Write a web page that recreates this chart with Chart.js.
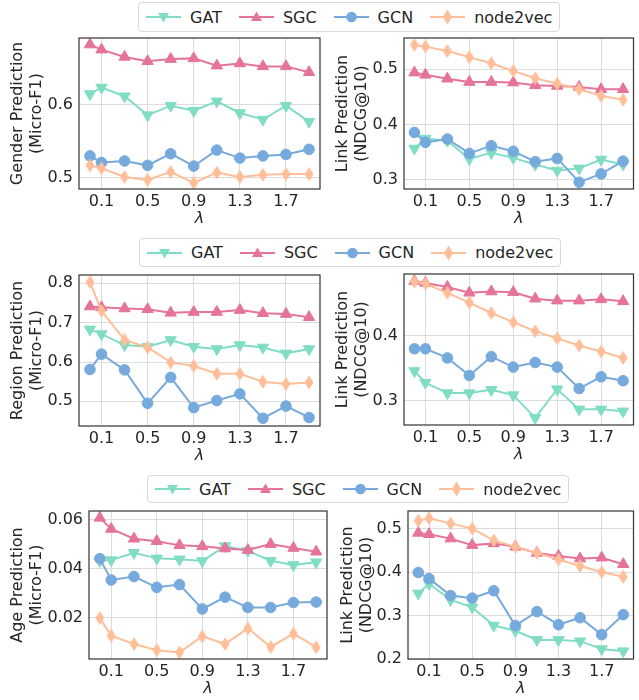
<!DOCTYPE html>
<html>
<head>
<meta charset="utf-8">
<script src="https://cdn.jsdelivr.net/npm/chart.js@4.4.0/dist/chart.umd.min.js"></script>
<style>
  body { margin: 0; width: 639px; height: 700px; overflow: hidden; background: #fff; position: relative; font-family: 'DejaVu Sans', sans-serif; }
  canvas { position: absolute; }
  .legend { position: absolute; display: flex; align-items: center; padding: 0 7px; border: 1px solid #d9d9d9; border-radius: 4px; background: #fff; font-size: 16px; color: #262626; box-sizing: border-box; }
  .item { display: flex; align-items: center; margin-right: 17px; white-space: nowrap; }
  .item:last-child { margin-right: 0; }
  .item svg { margin-right: 9px; }
</style>
</head>
<body>
<canvas id="gender" width="328" height="197" style="left:0;top:30px"></canvas>
<canvas id="linkGender" width="316" height="197" style="left:325px;top:30px"></canvas>
<canvas id="region" width="328" height="197" style="left:0;top:267px"></canvas>
<canvas id="linkRegion" width="316" height="197" style="left:325px;top:266px"></canvas>
<canvas id="age" width="335" height="194" style="left:0;top:503px"></canvas>
<canvas id="linkAge" width="311" height="194" style="left:330px;top:503px"></canvas>
<div class="legend" id="legend1" style="left:138px;top:2px;height:30px"></div>
<div class="legend" id="legend2" style="left:139px;top:238px;height:29px"></div>
<div class="legend" id="legend3" style="left:147px;top:475px;height:28px"></div>
<script>
// x values (lambda) and x tick marks
const lambdas = [0, 0.1, 0.3, 0.5, 0.7, 0.9, 1.1, 1.3, 1.5, 1.7, 1.9];
const xTicks = [0.1, 0.5, 0.9, 1.3, 1.7];
const models = ['GAT', 'SGC', 'GCN', 'node2vec'];

// gender row
const genderGAT = [0.615, 0.624, 0.612, 0.586, 0.599, 0.592, 0.605, 0.589, 0.580, 0.599, 0.577];
const genderSGC = [0.683, 0.676, 0.666, 0.660, 0.663, 0.664, 0.654, 0.657, 0.653, 0.653, 0.645];
const genderGCN = [0.530, 0.521, 0.523, 0.517, 0.533, 0.516, 0.538, 0.527, 0.530, 0.532, 0.539];
const genderN2V = [0.517, 0.513, 0.501, 0.497, 0.508, 0.493, 0.507, 0.501, 0.504, 0.505, 0.505];
const linkGenderGAT = [0.357, 0.375, 0.371, 0.338, 0.349, 0.340, 0.328, 0.317, 0.321, 0.337, 0.328];
const linkGenderSGC = [0.494, 0.490, 0.483, 0.477, 0.477, 0.476, 0.471, 0.470, 0.468, 0.464, 0.464];
const linkGenderGCN = [0.386, 0.368, 0.374, 0.348, 0.362, 0.352, 0.333, 0.339, 0.296, 0.311, 0.334];
const linkGenderN2V = [0.544, 0.541, 0.533, 0.522, 0.511, 0.497, 0.484, 0.474, 0.464, 0.452, 0.445];

// region row
const regionGAT = [0.683, 0.671, 0.643, 0.639, 0.656, 0.639, 0.633, 0.643, 0.637, 0.622, 0.633];
const regionSGC = [0.741, 0.739, 0.736, 0.734, 0.725, 0.727, 0.727, 0.732, 0.724, 0.722, 0.714];
const regionGCN = [0.581, 0.620, 0.580, 0.495, 0.561, 0.484, 0.502, 0.519, 0.457, 0.488, 0.459];
const regionN2V = [0.803, 0.730, 0.656, 0.637, 0.599, 0.590, 0.570, 0.570, 0.550, 0.544, 0.548];
const linkRegionGAT = [0.346, 0.328, 0.312, 0.312, 0.317, 0.309, 0.274, 0.318, 0.287, 0.287, 0.284];
const linkRegionSGC = [0.484, 0.481, 0.475, 0.466, 0.468, 0.467, 0.457, 0.454, 0.454, 0.456, 0.453];
const linkRegionGCN = [0.380, 0.380, 0.366, 0.339, 0.368, 0.352, 0.359, 0.352, 0.319, 0.337, 0.331];
const linkRegionN2V = [0.483, 0.480, 0.466, 0.451, 0.435, 0.421, 0.407, 0.396, 0.385, 0.376, 0.366];

// age row
const ageGAT = [0.0432, 0.0435, 0.0465, 0.0442, 0.0438, 0.0431, 0.0492, 0.0473, 0.0432, 0.0415, 0.0426];
const ageSGC = [0.0607, 0.0562, 0.0522, 0.0512, 0.0495, 0.0491, 0.0482, 0.0476, 0.0500, 0.0484, 0.0469];
const ageGCN = [0.0441, 0.0354, 0.0368, 0.0324, 0.0335, 0.0236, 0.0284, 0.0242, 0.0242, 0.0262, 0.0264];
const ageN2V = [0.0199, 0.0127, 0.0093, 0.0068, 0.0059, 0.0124, 0.0093, 0.0157, 0.0081, 0.0135, 0.0080];
const linkAgeGAT = [0.351, 0.373, 0.336, 0.319, 0.277, 0.265, 0.244, 0.244, 0.241, 0.223, 0.218];
const linkAgeSGC = [0.490, 0.487, 0.477, 0.462, 0.466, 0.458, 0.444, 0.437, 0.431, 0.433, 0.418];
const linkAgeGCN = [0.399, 0.385, 0.346, 0.340, 0.357, 0.277, 0.309, 0.279, 0.295, 0.256, 0.302];
const linkAgeN2V = [0.518, 0.524, 0.512, 0.500, 0.473, 0.458, 0.444, 0.429, 0.414, 0.400, 0.389];

// y tick marks per panel
const genderTicks = [0.5, 0.6];
const linkGenderTicks = [0.3, 0.4, 0.5];
const regionTicks = [0.5, 0.6, 0.7, 0.8];
const linkRegionTicks = [0.3, 0.4];
const ageTicks = [0.02, 0.04, 0.06];
const linkAgeTicks = [0.2, 0.3, 0.4, 0.5];

const getById = label => document.getElementById(label);
const colors = ['#80ddc4', '#e5739a', '#76aadd', '#ffbe98'];
const textColor = '#262626';

// thin diamond marker for node2vec
const thinDiamond = (() => {
  const c = document.createElement('canvas');
  c.width = 10; c.height = 15;
  const g = c.getContext('2d');
  g.fillStyle = colors[3];
  g.beginPath();
  g.moveTo(5, 0.5); g.lineTo(9.5, 7.5); g.lineTo(5, 14.5); g.lineTo(0.5, 7.5);
  g.closePath();
  g.fill();
  return c;
})();
const pointStyles = ['triangle', 'triangle', 'circle', thinDiamond];
const pointRotations = [180, 0, 0, 0];
const pointRadii = [6.5, 6.5, 5.3, 6];

const frame = {
  id: 'frame',
  afterDraw(chart) {
    const {ctx, chartArea: a} = chart;
    ctx.save();
    ctx.strokeStyle = '#333';
    ctx.lineWidth = 1.2;
    ctx.strokeRect(a.left, a.top, a.right - a.left, a.bottom - a.top);
    ctx.restore();
  }
};

const addChart = (id, series, yMin, yMax, yTicks, yTitle, axisWidth, rightPad) => {
  const ctx = getById(id).getContext('2d');
  // eslint-disable-next-line
  const chart = new Chart(ctx, {
    type: 'line',
    data: {
      datasets: series.map((values, i) => ({
        label: models[i],
        data: values.map((v, j) => ({x: lambdas[j], y: v})),
        borderColor: colors[i],
        backgroundColor: colors[i],
        borderWidth: 2,
        pointStyle: pointStyles[i],
        pointRotation: pointRotations[i],
        pointRadius: pointRadii[i],
        pointBorderWidth: 1,
        clip: false,
        order: 3 - i
      }))
    },
    options: {
      responsive: false,
      animation: false,
      events: [],
      layout: {padding: {top: 8, right: rightPad, left: 0, bottom: 0}},
      plugins: {legend: {display: false}, tooltip: {enabled: false}},
      scales: {
        x: {
          type: 'linear',
          min: -0.095,
          max: 1.995,
          afterBuildTicks: s => { s.ticks = xTicks.map(v => ({value: v})); },
          afterFit: s => { s.height = 38; s.paddingLeft = 0; s.paddingRight = 0; },
          ticks: {padding: 3, color: textColor, font: {family: 'DejaVu Sans', size: 16}, callback: v => String(v)},
          grid: {color: '#dcdcdc', lineWidth: 1, drawTicks: false},
          border: {display: false},
          title: {display: true, text: 'λ', color: textColor, font: {family: 'DejaVu Sans', size: 16, style: 'italic', lineHeight: 1}, padding: 0}
        },
        y: {
          min: yMin,
          max: yMax,
          afterBuildTicks: s => { s.ticks = yTicks.map(v => ({value: v})); },
          afterFit: s => { s.width = axisWidth; s.paddingTop = 0; s.paddingBottom = 0; },
          ticks: {padding: 6, color: textColor, font: {family: 'DejaVu Sans', size: 16}, callback: v => String(v)},
          grid: {color: '#dcdcdc', lineWidth: 1, drawTicks: false},
          border: {display: false},
          title: {display: true, text: yTitle, color: textColor, font: {family: 'DejaVu Sans', size: 16, lineHeight: 1.2}, padding: {top: 8.4, bottom: 0}}
        }
      }
    },
    plugins: [frame]
  });
};

const markerSvg = i => {
  const c = colors[i];
  let m;
  if (i === 0) m = `<polygon points="12,4 23,4 17.5,13.5" fill="${c}"/>`;
  else if (i === 1) m = `<polygon points="17.5,2.5 23,12 12,12" fill="${c}"/>`;
  else if (i === 2) m = `<circle cx="17.5" cy="8" r="5.3" fill="${c}"/>`;
  else m = `<polygon points="17.5,0.5 22,8 17.5,15.5 13,8" fill="${c}"/>`;
  return `<svg width="35" height="16"><line x1="0" y1="8" x2="35" y2="8" stroke="${c}" stroke-width="2"/>${m}</svg>`;
};

const addLegend = id => {
  getById(id).innerHTML = models.map((name, i) => `<div class="item">${markerSvg(i)}<span>${name}</span></div>`).join('');
};

document.addEventListener('DOMContentLoaded', () => {
  addChart('gender', [genderGAT, genderSGC, genderGCN, genderN2V], 0.4845, 0.692, genderTicks, ['Gender Prediction', '(Micro-F1)'], 79, 8);
  addChart('linkGender', [linkGenderGAT, linkGenderSGC, linkGenderGCN, linkGenderN2V], 0.2837, 0.5566, linkGenderTicks, ['Link Prediction', '(NDCG@10)'], 79, 0);
  addChart('region', [regionGAT, regionSGC, regionGCN, regionN2V], 0.4373, 0.8212, regionTicks, ['Region Prediction', '(Micro-F1)'], 79, 8);
  addChart('linkRegion', [linkRegionGAT, linkRegionSGC, linkRegionGCN, linkRegionN2V], 0.263, 0.4949, linkRegionTicks, ['Link Prediction', '(NDCG@10)'], 79, 0);
  addChart('age', [ageGAT, ageSGC, ageGCN, ageN2V], 0.0032, 0.0635, ageTicks, ['Age Prediction', '(Micro-F1)'], 89, 8);
  addChart('linkAge', [linkAgeGAT, linkAgeSGC, linkAgeGCN, linkAgeN2V], 0.2, 0.5405, linkAgeTicks, ['Link Prediction', '(NDCG@10)'], 78, 0);
  ['legend1', 'legend2', 'legend3'].forEach(addLegend);
});
</script>
</body>
</html>
